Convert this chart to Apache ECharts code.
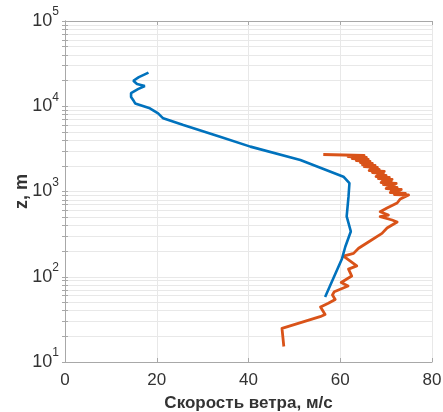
<!DOCTYPE html>
<html>
<head>
<meta charset="utf-8">
<script src="https://cdn.jsdelivr.net/npm/echarts@6/dist/echarts.min.js"></script>
<style>
  html, body { margin: 0; padding: 0; background: #ffffff; }
  #chart { width: 443px; height: 412px; }
</style>
</head>
<body>
<div id="chart"></div>
<script>
// Wind speed profile (m/s) against height z (m), log height scale
const modelSpeed = [18.2, 16.1, 14.9, 15.7, 17.4, 15.9, 14.4, 14.4, 15.0, 15.3, 18.5, 20.3, 21.4, 25.8, 33.8, 40.4, 51.3, 60.7, 62.0, 61.8, 61.4, 62.3, 61.1, 60.4, 56.7];
const modelHeight = [24800, 22000, 19900, 18200, 17300, 15900, 14300, 12800, 11500, 10800, 9460, 8260, 7220, 6030, 4400, 3360, 2340, 1490, 1250, 870, 510, 340, 225, 164, 58];

const obsSpeed = [47.7, 47.3, 55.6, 56.7, 55.7, 57.4, 58.9, 58.3, 58.7, 61.7, 60.2, 62.5, 61.8, 63.6, 60.7, 62.9, 64.0, 65.8, 69.1, 70.2, 72.4, 71.3, 68.7, 70.5, 68.7, 70.2, 72.4, 73.1, 74.9,
  71.8, 74.2, 70.9, 72.9, 71.1, 73.3, 70.0, 72.4, 70.3, 71.8, 69.4, 72.2, 68.9, 71.1, 69.2, 71.3, 68.3, 70.7, 67.8, 70.0,
  68.1, 69.4, 67.0, 69.6, 66.3, 68.5, 66.5, 68.1, 65.2, 67.6, 64.8, 67.0, 64.4, 66.5, 63.5, 66.1, 62.6, 65.7, 61.7, 65.2, 56.3];
const obsHeight = [15.2, 24.8, 34.0, 36.1, 44.2, 48.8, 54.1, 61.1, 66.8, 77.9, 85.6, 102, 123, 134, 175, 188, 216, 249, 323, 373, 439, 463, 506, 530, 579, 640, 733, 817, 910,
  922, 948, 973, 1000, 1027, 1055, 1084, 1114, 1145, 1176, 1208, 1241, 1275, 1310, 1346, 1383, 1421, 1460, 1500, 1541,
  1583, 1626, 1671, 1717, 1764, 1812, 1862, 1912, 1965, 2018, 2074, 2130, 2189, 2249, 2310, 2374, 2439, 2505, 2574, 2644, 2716];

const speedTicks = [0, 20, 40, 60, 80];
const heightRange = [10, 100000];

// every 1..9 x 10^n between the decades, for ticks and grid
const heightMinor = [];
for (let e = 1; e < 5; e++) {
  for (let k = 1; k <= 9; k++) heightMinor.push(k * Math.pow(10, e));
}
heightMinor.push(100000);

const axisGrey = '#a8a8a8';
const textGrey = '#333333';

const chart = echarts.init(document.getElementById('chart'), null, { renderer: 'canvas' });

const toPairs = (xs, ys) => xs.map((x, i) => [x, ys[i]]);

chart.setOption({
  animation: false,
  backgroundColor: '#ffffff',
  grid: { left: 65, right: 11, top: 21, bottom: 50, containLabel: false, outerBoundsMode: 'none' },
  xAxis: [
    {
      type: 'value', position: 'bottom',
      min: speedTicks[0], max: speedTicks[speedTicks.length - 1], interval: 20,
      name: 'Скорость ветра, м/с', nameLocation: 'middle', nameGap: 33, nameMoveOverlap: false,
      nameTextStyle: { fontFamily: 'Liberation Sans', fontWeight: 'bold', fontSize: 17, color: textGrey },
      axisLine: { show: true, lineStyle: { color: axisGrey, width: 1 } },
      axisTick: { show: true, inside: true, length: 4, lineStyle: { color: axisGrey } },
      axisLabel: { margin: 10, fontFamily: 'Liberation Sans', fontSize: 17, color: textGrey },
      splitLine: { show: true, lineStyle: { color: '#e8e8e8', width: 1 } }
    },
    {
      type: 'value', position: 'top',
      min: speedTicks[0], max: speedTicks[speedTicks.length - 1], interval: 20,
      axisLine: { show: true, lineStyle: { color: axisGrey, width: 1 } },
      axisTick: { show: true, inside: true, length: 4, lineStyle: { color: axisGrey } },
      axisLabel: { show: false },
      splitLine: { show: false }
    }
  ],
  yAxis: [
    {
      type: 'log', logBase: 10, position: 'left',
      min: heightRange[0], max: heightRange[1],
      name: 'z, m', nameLocation: 'middle', nameGap: 34, nameRotate: 90, nameMoveOverlap: false,
      nameTextStyle: { fontFamily: 'Liberation Sans', fontWeight: 'bold', fontSize: 18, color: textGrey },
      axisLine: { show: true, lineStyle: { color: axisGrey, width: 1 } },
      axisTick: { show: true, inside: true, length: 3, customValues: heightMinor, lineStyle: { color: axisGrey } },
      axisLabel: {
        margin: 6, fontFamily: 'Liberation Sans', color: textGrey,
        formatter: function (v) {
          return '{b|10}{s|' + Math.round(Math.log10(v)) + '}';
        },
        rich: {
          b: { fontSize: 18, fontFamily: 'Liberation Sans', color: textGrey, lineHeight: 18, verticalAlign: 'bottom' },
          s: { fontSize: 12, fontFamily: 'Liberation Sans', color: textGrey, lineHeight: 12, verticalAlign: 'bottom', padding: [0, 0, 12, 0] }
        }
      },
      splitLine: { show: true, lineStyle: { color: '#e8e8e8', width: 1 } }
    },
    {
      type: 'log', logBase: 10, position: 'right',
      min: heightRange[0], max: heightRange[1],
      axisLine: { show: true, lineStyle: { color: axisGrey, width: 1 } },
      axisTick: { show: true, inside: true, length: 3, customValues: heightMinor, lineStyle: { color: axisGrey } },
      axisLabel: { show: false },
      splitLine: { show: false }
    }
  ],
  series: [
    {
      type: 'line', name: 'model', xAxisIndex: 0, yAxisIndex: 0,
      data: toPairs(modelSpeed, modelHeight),
      showSymbol: false, smooth: false,
      lineStyle: { color: '#0072BD', width: 2.6 }, z: 3
    },
    {
      type: 'line', name: 'obs', xAxisIndex: 0, yAxisIndex: 0,
      data: toPairs(obsSpeed, obsHeight),
      showSymbol: false, smooth: false,
      lineStyle: { color: '#D95319', width: 2.8, join: 'round' }, z: 2
    }
  ]
});
</script>
</body>
</html>
